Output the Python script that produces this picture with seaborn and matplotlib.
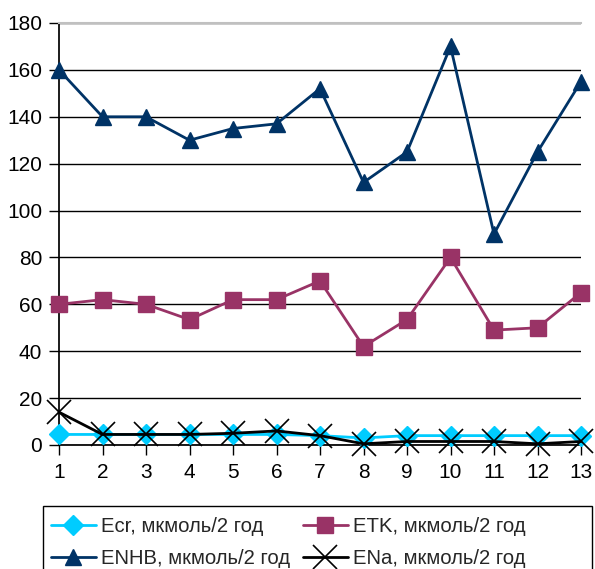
import matplotlib
matplotlib.use("Agg")
import matplotlib.pyplot as plt
from matplotlib.patches import Rectangle
import pandas as pd
import seaborn as sns

# Chart data
points = list(range(1, 14))
ecr = [4.5, 4.5, 4.5, 4.5, 4.5, 4.5, 4, 3, 4, 4, 4, 4, 4]
etk = [60, 62, 60, 53.5, 62, 62, 70, 42, 53.5, 80, 49, 50, 65]
enhb = [160, 140, 140, 130, 135, 137, 152, 112, 125, 170, 90, 125, 155]
ena = [14, 4.5, 4.5, 4.5, 5, 6, 4, 0.5, 1.5, 1.5, 1.5, 0.5, 1.5]

names = ["Ecr, мкмоль/2 год", "ETK, мкмоль/2 год",
         "ENHB, мкмоль/2 год", "ENa, мкмоль/2 год"]
colors = ["#00CCFF", "#993366", "#003366", "#000000"]
markers = ["D", "s", "^", "x"]
msizes = [10, 12, 12, 17]

df = pd.DataFrame({"x": points, names[0]: ecr, names[1]: etk,
                   names[2]: enhb, names[3]: ena})
long = df.melt(id_vars="x", var_name="series", value_name="value")

sns.set_theme(style="white")
plt.rcParams["font.family"] = ["Liberation Sans", "DejaVu Sans"]

fig = plt.figure(figsize=(5.95, 5.69), dpi=100)
ax = fig.add_axes([59 / 595, 1 - 445 / 569, (581 - 59) / 595, (445 - 23) / 569])

# draw back-to-front like the original
order = [3, 2, 1, 0]
handles = {}
for i in order:
    sub = long[long["series"] == names[i]]
    sns.lineplot(data=sub, x="x", y="value", ax=ax, color=colors[i],
                 marker=markers[i], markersize=msizes[i], linewidth=2,
                 markeredgecolor=colors[i], markeredgewidth=1 if markers[i] != "x" else 1.2,
                 clip_on=False, zorder=3 + i, legend=False)
    handles[i] = ax.lines[-1]

ax.set_xlim(1, 13)
ax.set_ylim(0, 180)
ax.set_xticks(points)
ax.set_yticks(range(0, 181, 20))
ax.set_xlabel("")
ax.set_ylabel("")
ax.yaxis.grid(True, color="black", linewidth=1)
ax.set_axisbelow(True)
ax.spines["right"].set_visible(False)
ax.spines["top"].set_color("#C0C0C0")
ax.spines["top"].set_linewidth(1.5)
ax.spines["left"].set_color("black")
ax.spines["bottom"].set_color("black")
ax.tick_params(axis="both", which="both", direction="out", length=7, width=1,
               color="black", labelsize=15, labelcolor="black", bottom=True, left=True)
ax.tick_params(axis="x", pad=6)
ax.tick_params(axis="y", pad=5)

# legend box (frame runs off the bottom edge, as in the original)
fig.patches.append(Rectangle((43 / 595, -0.02), (592 - 43) / 595, 0.02 + 63 / 569,
                             transform=fig.transFigure, facecolor="white",
                             edgecolor="black", linewidth=1, zorder=0))

leg_order = [0, 2, 1, 3]
leg = fig.legend([handles[i] for i in leg_order], [names[i] for i in leg_order],
                 ncol=2, loc="upper left",
                 bbox_to_anchor=(47 / 595, 1 - 513 / 569),
                 frameon=False, fontsize=14.6,
                 borderaxespad=0, handlelength=2.2, handletextpad=0.25,
                 columnspacing=0.65, labelspacing=0.65, borderpad=0.2)

fig.savefig("out.png", dpi=100)
